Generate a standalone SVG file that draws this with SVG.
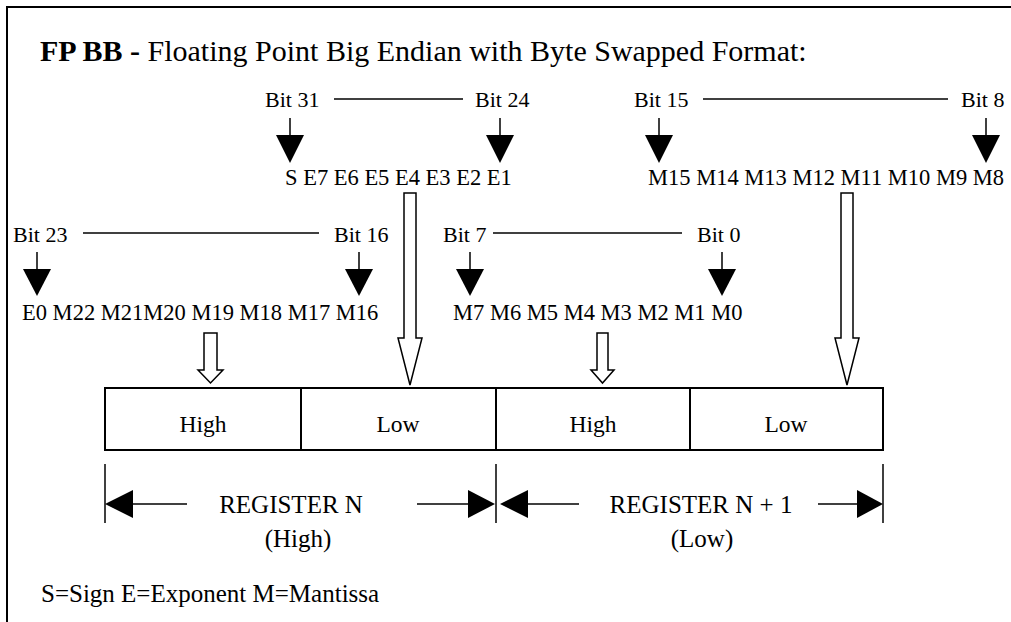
<svg xmlns="http://www.w3.org/2000/svg" width="1011" height="622" viewBox="0 0 1011 622">
<style>
.bit{font-size:22px}
.row{font-size:22.5px}
.cell{font-size:23.5px;text-anchor:middle}
.reg{font-size:25px;text-anchor:middle}
.ln{stroke:#000;stroke-width:1.5;fill:none}
.hollow{fill:#fff;stroke:#000;stroke-width:1.5}
.solid{fill:#000;stroke:none}
</style>
<rect x="7" y="7" width="1030" height="640" fill="#fff" stroke="#000" stroke-width="2"/>
<g font-family="'Liberation Serif', 'Times New Roman', Times, serif" fill="#000">
<g id="title">
<text x="40" y="61" font-size="30"><tspan font-weight="bold">FP BB -</tspan> Floating Point Big Endian with Byte Swapped Format:</text>
</g>
<g id="bits-high">
<text class="bit" x="265" y="107">Bit 31</text>
<text class="bit" x="475" y="107">Bit 24</text>
<text class="row" x="285" y="185">S E7 E6 E5 E4 E3 E2 E1</text>
</g>
<g id="bits-mid-high">
<text class="bit" x="634" y="107">Bit 15</text>
<text class="bit" x="961" y="107">Bit 8</text>
<text class="row" x="648" y="185">M15 M14 M13 M12 M11 M10 M9 M8</text>
</g>
<g id="bits-mid-low">
<text class="bit" x="13" y="242">Bit 23</text>
<text class="bit" x="334" y="242">Bit 16</text>
<text class="row" x="22" y="320">E0 M22 M21M20 M19 M18 M17 M16</text>
</g>
<g id="bits-low">
<text class="bit" x="443" y="242">Bit 7</text>
<text class="bit" x="697" y="242">Bit 0</text>
<text class="row" x="453" y="320">M7 M6 M5 M4 M3 M2 M1 M0</text>
</g>
<g id="registers">
<rect x="105" y="388" width="778" height="62" fill="#fff" stroke="#000" stroke-width="2"/>
<line x1="301" y1="388" x2="301" y2="450" stroke="#000" stroke-width="2"/>
<line x1="496" y1="388" x2="496" y2="450" stroke="#000" stroke-width="2"/>
<line x1="690" y1="388" x2="690" y2="450" stroke="#000" stroke-width="2"/>
<text class="cell" x="203" y="432">High</text>
<text class="cell" x="398" y="432">Low</text>
<text class="cell" x="593" y="432">High</text>
<text class="cell" x="786" y="432">Low</text>
</g>
<g id="register-n">
<text class="reg" x="291" y="513">REGISTER N</text>
<text class="reg" x="298" y="547">(High)</text>
</g>
<g id="register-n1">
<text class="reg" x="701" y="513">REGISTER N + 1</text>
<text class="reg" x="702" y="547">(Low)</text>
</g>
<g id="legend">
<text x="41" y="602" font-size="25">S=Sign E=Exponent M=Mantissa</text>
</g>
</g>
<g id="connectors">
<line class="ln" x1="334" y1="99" x2="463" y2="99"/>
<line class="ln" x1="703" y1="99" x2="948" y2="99"/>
<line class="ln" x1="83" y1="233" x2="319" y2="233"/>
<line class="ln" x1="493" y1="233" x2="682" y2="233"/>
<line class="ln" x1="290" y1="118" x2="290" y2="136"/>
<polygon class="solid" points="276,135 304,135 290,163"/>
<line class="ln" x1="500" y1="118" x2="500" y2="136"/>
<polygon class="solid" points="486,135 514,135 500,163"/>
<line class="ln" x1="659" y1="118" x2="659" y2="136"/>
<polygon class="solid" points="645,135 673,135 659,163"/>
<line class="ln" x1="986" y1="118" x2="986" y2="136"/>
<polygon class="solid" points="972,135 1000,135 986,163"/>
<line class="ln" x1="37" y1="252" x2="37" y2="270"/>
<polygon class="solid" points="23,269 51,269 37,296"/>
<line class="ln" x1="359" y1="252" x2="359" y2="270"/>
<polygon class="solid" points="345,269 373,269 359,296"/>
<line class="ln" x1="470" y1="252" x2="470" y2="270"/>
<polygon class="solid" points="456,269 484,269 470,296"/>
<line class="ln" x1="722" y1="252" x2="722" y2="270"/>
<polygon class="solid" points="708,269 736,269 722,296"/>
<polygon class="hollow" points="404,193 416,193 416,338 422,338 410,385 398,338 404,338"/>
<polygon class="hollow" points="841,193 853,193 853,338 859,338 847,385 835,338 841,338"/>
<polygon class="hollow" points="204,333 217,333 217,370 223,370 210.5,383 198,370 204,370"/>
<polygon class="hollow" points="597,333 608,333 608,370 614,370 602.5,383 591,370 597,370"/>
<line class="ln" x1="105" y1="464" x2="105" y2="523"/>
<line class="ln" x1="496" y1="464" x2="496" y2="523"/>
<line class="ln" x1="883" y1="464" x2="883" y2="523"/>
<line class="ln" x1="130" y1="504" x2="187" y2="504"/>
<polygon class="solid" points="105,504 133,490 133,518"/>
<line class="ln" x1="417" y1="504" x2="470" y2="504"/>
<polygon class="solid" points="495,504 468,490 468,518"/>
<line class="ln" x1="525" y1="504" x2="579" y2="504"/>
<polygon class="solid" points="500,504 528,490 528,518"/>
<line class="ln" x1="818" y1="504" x2="860" y2="504"/>
<polygon class="solid" points="883,504 857,490 857,518"/>
</g>
</svg>
